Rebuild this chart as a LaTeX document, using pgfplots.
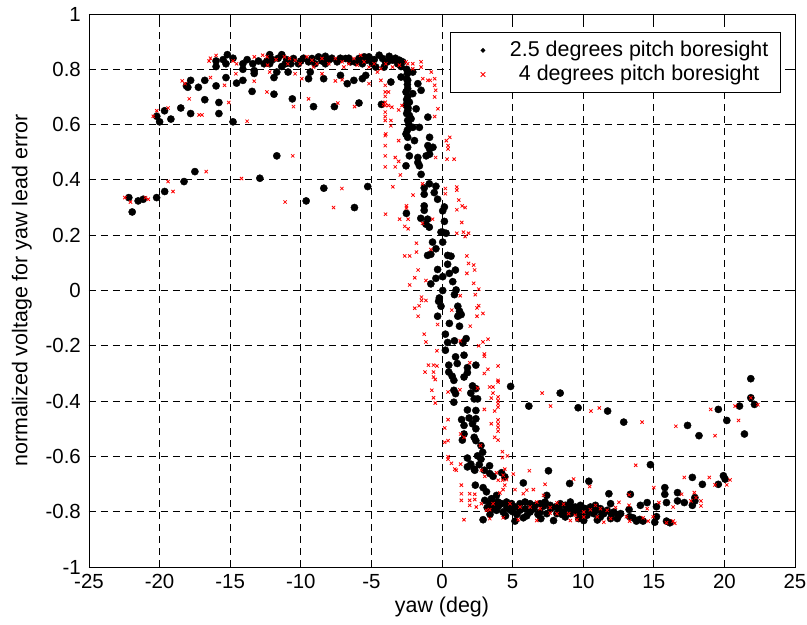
\documentclass[border=0pt]{standalone}
\usepackage{fontspec}
\setmainfont{Liberation Sans}
\usepackage{pgfplots}
\pgfplotsset{compat=1.18}
\begin{document}
\begin{tikzpicture}
\useasboundingbox (-89bp,-58bp) rectangle (718bp,567bp);
\begin{axis}[
  at={(0,0)}, anchor=south west,
  scale only axis, width=706bp, height=553bp,
  xmin=-25, xmax=25, ymin=-1, ymax=1,
  xtick={-25,-20,-15,-10,-5,0,5,10,15,20,25},
  xticklabels={-25,-20,-15,-10,-5,0,5,10,15,20,25},
  ytick={-1,-0.8,-0.6,-0.4,-0.2,0,0.2,0.4,0.6,0.8,1},
  yticklabels={-1,-0.8,-0.6,-0.4,-0.2,0,0.2,0.4,0.6,0.8,1},
  tick align=inside, major tick length=6bp,
  tick style={black, line width=0.8bp},
  axis line style={black, line width=0.9bp},
  grid=major,
  major grid style={black, line width=0.8bp, dash pattern=on 7bp off 5bp},
  ticklabel style={font=\fontsize{20.5}{24}\selectfont},
  xticklabel style={yshift=-7.5bp, inner sep=0pt},
  yticklabel style={inner sep=0pt, xshift=-8bp},
  xlabel={yaw (deg)}, ylabel={normalized voltage for yaw lead error},
  label style={font=\fontsize{21.5}{25}\selectfont},
  xlabel style={at={(axis description cs:0.5,-0.072)}, anchor=center},
  ylabel style={at={(axis description cs:-0.095,0.5)}, anchor=center},
  legend cell align=center,
  legend style={at={(0.98,0.9675)}, anchor=north east, draw=black, line width=1bp,
    fill=white, font=\fontsize{21.5}{25}\selectfont, inner xsep=12bp, inner ysep=7.75bp,
    nodes={inner sep=0pt, text height=16bp, text depth=4.5bp},
    row sep=3.5bp, column sep=13bp},
]
% 2.5 degrees pitch boresight (black dots)
\addplot[only marks, mark=*, mark size=3.6bp, black,
  legend image code/.code={\path[draw=none,fill=none] (0bp,0bp) -- (34bp,0bp); \fill[black] (20bp,0bp) circle (1.8bp);}] coordinates {
(-15.2,0.853) (-16.0,0.83) (-16.0,0.81) (-15.3,0.82) (-14.1,0.82) (-13.8,0.835) (-13.4,0.82) (-14.1,0.80) (-13.3,0.795) (-13.3,0.785) (-12.2,0.853) (-12.2,0.82) (-12.6,0.82) (-11.35,0.853) (-11.35,0.81) (-11.7,0.79) (-10.9,0.79) (-10.7,0.82) (-12.4,0.83) (-11.0,0.835) (-11.6,0.84) (-15.3,0.77) (-17.8,0.76) (-18.1,0.74) (-18.0,0.735) (-17.25,0.735) (-16.8,0.76) (-16.0,0.74) (-14.55,0.75) (-14.1,0.76) (-13.45,0.72) (-11.9,0.71) (-11.9,0.77) (-16.8,0.69) (-15.8,0.68) (-17.8,0.64) (-18.5,0.66) (-15.8,0.64) (-19.65,0.65) (-20.2,0.63) (-20.0,0.61) (-19.2,0.62) (-14.8,0.61) (-11.7,0.487) (-12.9,0.406) (-17.5,0.43)
(-15.5,0.835) (-14.8,0.84) (-13.0,0.83) (-12.0,0.835) (-11.1,0.82) (-10.0,0.83) (-9.8,0.84) (-9.0,0.82) (-8.5,0.83) (-7.8,0.84) (-7.2,0.84) (-6.6,0.84) (-6.1,0.825) (-5.5,0.845) (-4.8,0.835) (-4.0,0.825) (-3.3,0.84) (-2.9,0.81)
(-22.18,0.336) (-21.94,0.284) (-21.52,0.324) (-21.16,0.33) (-20.21,0.336) (-19.64,0.358) (-18.27,0.394) (-8.37,0.37) (-9.62,0.324) (-6.2,0.30) (-5.26,0.376)
(-10.52,0.839) (-10.17,0.82) (-9.45,0.827) (-9.21,0.839) (-8.74,0.845) (-8.26,0.847) (-8.02,0.833) (-7.43,0.827) (-6.83,0.839) (-6.48,0.827) (-5.88,0.839) (-5.64,0.82) (-5.29,0.833) (-4.93,0.82) (-4.45,0.851) (-4.21,0.839) (-3.86,0.827) (-3.5,0.833) (-3.14,0.82) (-2.79,0.827) (-4.1,0.808) (-4.69,0.808) (-3.02,0.833) (-8.26,0.82) (-5.17,0.845) (-3.74,0.847)
(-9.33,0.79) (-9.45,0.766) (-8.38,0.766) (-7.19,0.778) (-6.71,0.748) (-6.24,0.76) (-5.64,0.766) (-5.4,0.778) (-3.62,0.754) (-2.9,0.772) (-2.43,0.76) (-2.07,0.79)
(-2.43,0.73) (-2.07,0.712) (-2.55,0.718) (-1.71,0.748) (-1.48,0.724) (-2.31,0.681) (-2.43,0.651) (-1.83,0.657) (-2.19,0.621) (-2.43,0.615) (-1.6,0.59) (-2.07,0.59) (-2.55,0.566) (-2.43,0.554) (-0.88,0.554) (-1.0,0.524) (-1.95,0.542) (-0.88,0.512) (-2.43,0.518) (-2.31,0.487) (-1.71,0.481) (-0.64,0.518) (-1.12,0.487) (-0.88,0.493) (-1.71,0.463) (-1.6,0.451) (-2.55,0.451) (-1.48,0.42) (-1.0,0.627) (-2.43,0.70) (-2.55,0.67) (-2.31,0.633)
(-2.5,0.80) (-2.45,0.785) (-2.5,0.765) (-2.45,0.745) (-2.5,0.69) (-2.4,0.66) (-2.5,0.64) (-2.35,0.60) (-2.45,0.58)
(-10.6,0.693) (-9.1,0.665) (-7.62,0.665) (-5.88,0.678) (-4.29,0.673)
(-0.9,0.386) (-1.26,0.371) (-0.43,0.377) (-0.55,0.354) (-1.26,0.348) (-0.31,0.33) (-1.26,0.306) (-1.26,0.29) (0.17,0.302) (0.05,0.288) (-2.52,0.279) (-1.5,0.261) (-1.02,0.258) (-1.14,0.24) (-0.9,0.229) (0.17,0.25) (-0.07,0.211) (0.05,0.211) (0.29,0.207) (-0.67,0.175) (0.05,0.175) (-0.43,0.151) (-1.02,0.127) (-0.79,0.131) (0.4,0.127) (0.64,0.124) (0.4,0.095) (0.95,0.074) (-0.31,0.076) (0.52,0.062) (-0.43,0.044) (0.05,0.05) (-0.79,0.024) (0.76,0.032) (0.05,0.0) (1.0,0.002) (0.88,-0.015) (-0.19,-0.027) (-0.24,-0.039) (-0.07,-0.057) (1.12,-0.057) (1.24,-0.075) (1.36,-0.087) (-0.31,-0.093) (1.12,-0.093) (0.52,-0.119) (1.24,-0.129) (0.24,-0.158) (1.71,-0.174) (1.48,-0.19) (0.88,-0.182) (0.4,-0.188)
(0.24,-0.216) (0.96,-0.24) (1.56,-0.234) (0.48,-0.27) (1.08,-0.264) (1.8,-0.279) (1.8,-0.297) (2.4,-0.27) (0.48,-0.295) (0.72,-0.31) (0.84,-0.325) (1.56,-0.313) (2.16,-0.345) (2.4,-0.355) (0.84,-0.361) (0.96,-0.373) (2.04,-0.371) (2.28,-0.392) (0.84,-0.404) (2.52,-0.392) (1.8,-0.432) (2.4,-0.434) (2.4,-0.464) (1.92,-0.461) (1.39,-0.467) (2.16,-0.482) (1.56,-0.488) (2.4,-0.5) (1.56,-0.519) (1.44,-0.541) (2.28,-0.531) (2.4,-0.543) (2.76,-0.561) (2.88,-0.585) (2.52,-0.598) (1.8,-0.606) (2.76,-0.61) (2.04,-0.628) (1.8,-0.638) (2.28,-0.646) (2.64,-0.63) (3.37,-0.634) (3.0,-0.65) (4.86,-0.347) (6.15,-0.418) (8.37,-0.371)
(11.73,-0.436) (12.87,-0.476) (9.64,-0.424) (10.4,-0.69)
(21.87,-0.319) (21.87,-0.388) (22.13,-0.412) (21.07,-0.418) (19.57,-0.43) (20.17,-0.47) (21.42,-0.519) (18.2,-0.525) (17.39,-0.488) (14.76,-0.63)
(2.32,-0.65) (3.38,-0.662) (3.62,-0.672) (4.22,-0.659) (4.45,-0.674) (7.54,-0.652) (2.36,-0.704) (2.91,-0.713) (3.15,-0.728) (3.86,-0.741) (3.5,-0.753) (3.03,-0.759) (3.38,-0.771) (3.74,-0.768) (3.98,-0.765) (4.22,-0.771) (4.57,-0.765) (4.93,-0.771) (5.17,-0.783) (5.52,-0.771) (5.88,-0.765) (6.24,-0.771) (6.59,-0.777) (6.95,-0.771) (7.3,-0.765) (7.42,-0.741) (7.66,-0.777) (8.02,-0.783) (8.37,-0.771) (8.73,-0.777) (9.09,-0.765) (9.44,-0.783) (9.8,-0.777) (10.15,-0.789) (10.51,-0.783) (10.87,-0.777) (11.22,-0.789) (11.7,-0.795) (11.94,-0.771) (12.17,-0.801) (12.65,-0.807) (2.91,-0.829) (5.17,-0.834) (5.76,-0.822) (7.9,-0.832) (8.73,-0.819) (9.68,-0.825) (10.04,-0.832) (11.22,-0.819) (11.94,-0.825) (12.41,-0.825) (3.86,-0.795) (4.33,-0.801) (4.81,-0.793) (5.52,-0.795) (6.24,-0.801) (6.95,-0.801) (7.42,-0.807) (8.14,-0.807) (8.61,-0.801) (9.09,-0.807) (9.56,-0.801) (10.27,-0.813) (10.75,-0.807) (11.46,-0.807) (11.82,-0.735) (9.04,-0.698) (5.76,-0.696) (9.09,-0.783) (9.92,-0.785)
(3.2,-0.785) (3.6,-0.79) (4.0,-0.78) (4.6,-0.785) (5.0,-0.8) (5.3,-0.81) (5.9,-0.79) (6.5,-0.79) (6.8,-0.81) (7.2,-0.78) (7.7,-0.79) (8.3,-0.79) (8.9,-0.785) (9.3,-0.8) (9.7,-0.79) (10.3,-0.8) (10.9,-0.795) (11.3,-0.8) (12.0,-0.81) (12.5,-0.815) (3.4,-0.81) (4.5,-0.815) (6.0,-0.815) (7.0,-0.825) (8.5,-0.81) (9.9,-0.815) (11.0,-0.83)
(17.73,-0.676) (18.44,-0.701) (19.57,-0.701) (19.93,-0.67) (20.05,-0.682) (15.78,-0.713) (15.78,-0.737) (16.68,-0.731) (17.91,-0.749) (17.91,-0.761) (17.73,-0.777) (17.16,-0.767) (16.68,-0.761) (15.9,-0.767) (15.19,-0.782) (14.53,-0.767) (14.05,-0.777) (13.34,-0.737) (13.25,-0.792) (13.29,-0.818) (13.53,-0.822) (13.77,-0.834) (14.0,-0.828) (14.24,-0.834) (15.19,-0.818) (15.07,-0.838) (15.9,-0.834) (16.14,-0.84)
};
\addlegendentry{2.5 degrees pitch boresight}
% 4 degrees pitch boresight (red crosses)
\addplot[only marks, mark=x, mark size=2.3bp, red, line width=0.8bp,
  legend image code/.code={\path[draw=none,fill=none] (0bp,0bp) -- (34bp,0bp); \path[draw=red, line width=0.8bp] (17.7bp,-2.3bp) -- (22.3bp,2.3bp) (17.7bp,2.3bp) -- (22.3bp,-2.3bp);}] coordinates {
(-16.5,0.83) (-16.4,0.84) (-16.0,0.85) (-14.8,0.83) (-14.55,0.82) (-13.29,0.845) (-12.7,0.851) (-12.39,0.845) (-11.75,0.835) (-11.16,0.845) (-10.8,0.839) (-10.92,0.82) (-12.2,0.79) (-12.35,0.815) (-18.4,0.758) (-18.2,0.748) (-16.4,0.77) (-15.4,0.742) (-14.6,0.784) (-13.3,0.757) (-12.4,0.718) (-17.9,0.693) (-15.1,0.68) (-20.2,0.65) (-20.45,0.63) (-19.4,0.66) (-17.2,0.635) (-17.0,0.635) (-13.8,0.612) (-16.7,0.43) (-14.2,0.405)
(-22.46,0.336) (-22.06,0.32) (-20.8,0.33) (-21.0,0.336) (-19.4,0.394) (-19.05,0.358) (-11.11,0.32) (-7.68,0.30) (-7.09,0.369)
(-10.4,0.833) (-10.05,0.82) (-9.57,0.845) (-9.21,0.833) (-8.86,0.82) (-8.5,0.839) (-8.02,0.82) (-7.55,0.839) (-7.07,0.827) (-6.6,0.82) (-6.24,0.839) (-5.76,0.851) (-5.52,0.827) (-5.17,0.808) (-4.81,0.82) (-4.57,0.79) (-4.33,0.802) (-3.98,0.82) (-3.5,0.808) (-3.02,0.815) (-2.55,0.827) (-2.07,0.82) (-1.48,0.827) (-1.48,0.808) (-2.07,0.802) (-0.76,0.79) (-10.4,0.784) (-9.93,0.766) (-8.5,0.784) (-7.55,0.758) (-7.07,0.762) (-5.17,0.748) (-4.33,0.76) (-2.43,0.82) (-6.95,0.808) (-6.0,0.815) (-9.1,0.808)
(-0.83,0.76) (-0.52,0.766) (-0.52,0.742) (-0.45,0.724) (-0.52,0.70) (-1.0,0.76) (-1.36,0.766) (-0.29,0.657) (-0.52,0.629)
(-4.02,0.742) (-4.02,0.718) (-3.79,0.718) (-4.02,0.702) (-4.02,0.681) (-4.02,0.669) (-3.79,0.669) (-3.55,0.663) (-3.07,0.653) (-2.83,0.669) (-4.02,0.645) (-4.02,0.629) (-4.02,0.615) (-3.62,0.615) (-3.62,0.596) (-3.98,0.566) (-4.02,0.56) (-4.02,0.524) (-4.02,0.487) (-4.02,0.447) (-3.31,0.481) (-3.07,0.467) (-3.07,0.542) (-2.95,0.418) (-3.31,0.447) (0.36,0.475) (0.55,0.554) (0.43,0.524) (0.43,0.512) (0.86,0.475) (-0.45,0.481) (0.31,0.542)
(-10.57,0.487) (-9.45,0.693) (-10.52,0.665) (-7.38,0.678) (-6.19,0.665) (-4.14,0.673)
(-3.48,0.375) (-2.05,0.345) (-1.38,0.386) (0.24,0.369) (0.24,0.35) (1.05,0.374) (1.05,0.363) (1.19,0.327) (1.43,0.306) (1.64,0.3) (1.05,0.292) (-2.52,0.306) (-2.52,0.298) (-3.0,0.258) (-2.4,0.258) (-2.64,0.232) (-2.4,0.223) (-4.0,0.276) (-1.38,0.243) (-0.67,0.258) (1.4,0.246) (1.52,0.211) (1.88,0.207) (1.64,0.195) (1.05,0.207) (-1.81,0.171) (-1.81,0.139) (-0.79,0.148) (-2.64,0.125) (-2.29,0.125) (1.76,0.125) (1.88,0.098) (2.24,0.092) (2.31,0.074) (1.76,0.062) (-1.69,0.074) (-1.93,0.046) (-1.14,0.036) (-2.29,0.02) (2.24,0.026) (2.6,0.005) (2.36,-0.015) (1.29,-0.019) (-1.45,-0.024) (-1.45,-0.036) (-1.14,-0.036) (-1.62,-0.055) (-1.93,-0.064) (-1.69,-0.093) (0.69,-0.071) (2.48,-0.063) (2.6,-0.055) (2.9,-0.083) (2.48,-0.093) (-0.31,-0.123) (2.0,-0.129) (-1.26,-0.158) (-1.14,-0.186) (1.29,-0.182) (2.9,-0.186) (3.26,-0.176)
(-0.36,-0.218) (2.6,-0.2) (3.0,-0.23) (3.0,-0.238) (-0.96,-0.27) (-0.6,-0.27) (-0.36,-0.273) (-1.2,-0.295) (-0.6,-0.295) (-0.6,-0.313) (-0.48,-0.322) (1.97,-0.261) (3.25,-0.285) (3.0,-0.3) (3.97,-0.273) (3.97,-0.325) (3.97,-0.331) (-0.72,-0.361) (-0.6,-0.388) (-0.48,-0.407) (0.43,-0.367) (1.27,-0.359) (2.52,-0.353) (3.37,-0.349) (3.61,-0.349) (3.61,-0.371) (3.49,-0.389) (3.97,-0.385) (3.97,-0.398) (3.97,-0.41) (3.97,-0.422) (3.73,-0.436) (3.0,-0.43) (0.43,-0.467) (0.19,-0.497) (0.19,-0.549) (0.43,-0.543) (1.32,-0.519) (1.56,-0.531) (3.49,-0.482) (3.97,-0.468) (3.97,-0.482) (3.97,-0.495) (3.97,-0.509) (3.73,-0.531) (3.97,-0.541) (2.72,-0.561) (4.28,-0.583) (4.28,-0.604) (4.64,-0.598) (0.43,-0.601) (0.43,-0.61) (0.67,-0.625) (0.91,-0.646) (1.32,-0.628) (4.45,-0.646) (7.09,-0.371) (7.69,-0.418)
(10.55,-0.436) (11.14,-0.425)
(21.87,-0.388) (22.37,-0.413) (20.76,-0.418) (19.03,-0.43) (21.0,-0.47) (19.34,-0.525) (16.56,-0.491) (14.17,-0.476) (13.72,-0.632)
(1.01,-0.65) (2.79,-0.65) (3.03,-0.672) (3.86,-0.659) (4.33,-0.668) (5.05,-0.664) (6.19,-0.652) (1.37,-0.704) (1.37,-0.735) (1.37,-0.759) (1.96,-0.735) (2.32,-0.737) (1.96,-0.759) (2.32,-0.756) (1.96,-0.777) (2.43,-0.783) (3.15,-0.795) (3.38,-0.793) (4.1,-0.732) (4.33,-0.72) (4.45,-0.704) (3.98,-0.686) (4.29,-0.686) (4.57,-0.684) (5.17,-0.72) (5.76,-0.735) (6.0,-0.722) (6.47,-0.72) (7.19,-0.741) (7.3,-0.701) (8.14,-0.768) (8.61,-0.773) (8.97,-0.807) (9.44,-0.813) (10.04,-0.801) (10.51,-0.793) (10.87,-0.777) (11.22,-0.789) (11.7,-0.795) (12.29,-0.785) (12.53,-0.766) (9.32,-0.682) (10.46,-0.709) (1.56,-0.829) (3.38,-0.825) (4.33,-0.822) (5.4,-0.829) (6.71,-0.832) (7.66,-0.805) (8.14,-0.807) (9.09,-0.832) (9.56,-0.829) (10.04,-0.819) (11.0,-0.819) (11.46,-0.838) (11.94,-0.825) (4.81,-0.771) (5.52,-0.783) (6.24,-0.783) (6.95,-0.789) (7.66,-0.785) (6.71,-0.765) (3.62,-0.771) (2.79,-0.771)
(17.16,-0.676) (18.93,-0.676) (19.34,-0.703) (20.17,-0.703) (20.4,-0.685) (15.0,-0.713) (16.97,-0.737) (17.87,-0.731) (17.63,-0.761) (17.99,-0.749) (18.34,-0.761) (18.34,-0.779) (16.37,-0.783) (15.36,-0.767) (14.53,-0.789) (13.25,-0.739) (13.25,-0.777) (13.06,-0.818) (13.29,-0.834) (14.24,-0.822) (14.6,-0.834) (14.95,-0.818) (15.9,-0.84) (16.37,-0.834) (16.49,-0.842)
};
\addlegendentry{4 degrees pitch boresight}
\end{axis}
\end{tikzpicture}
\end{document}
